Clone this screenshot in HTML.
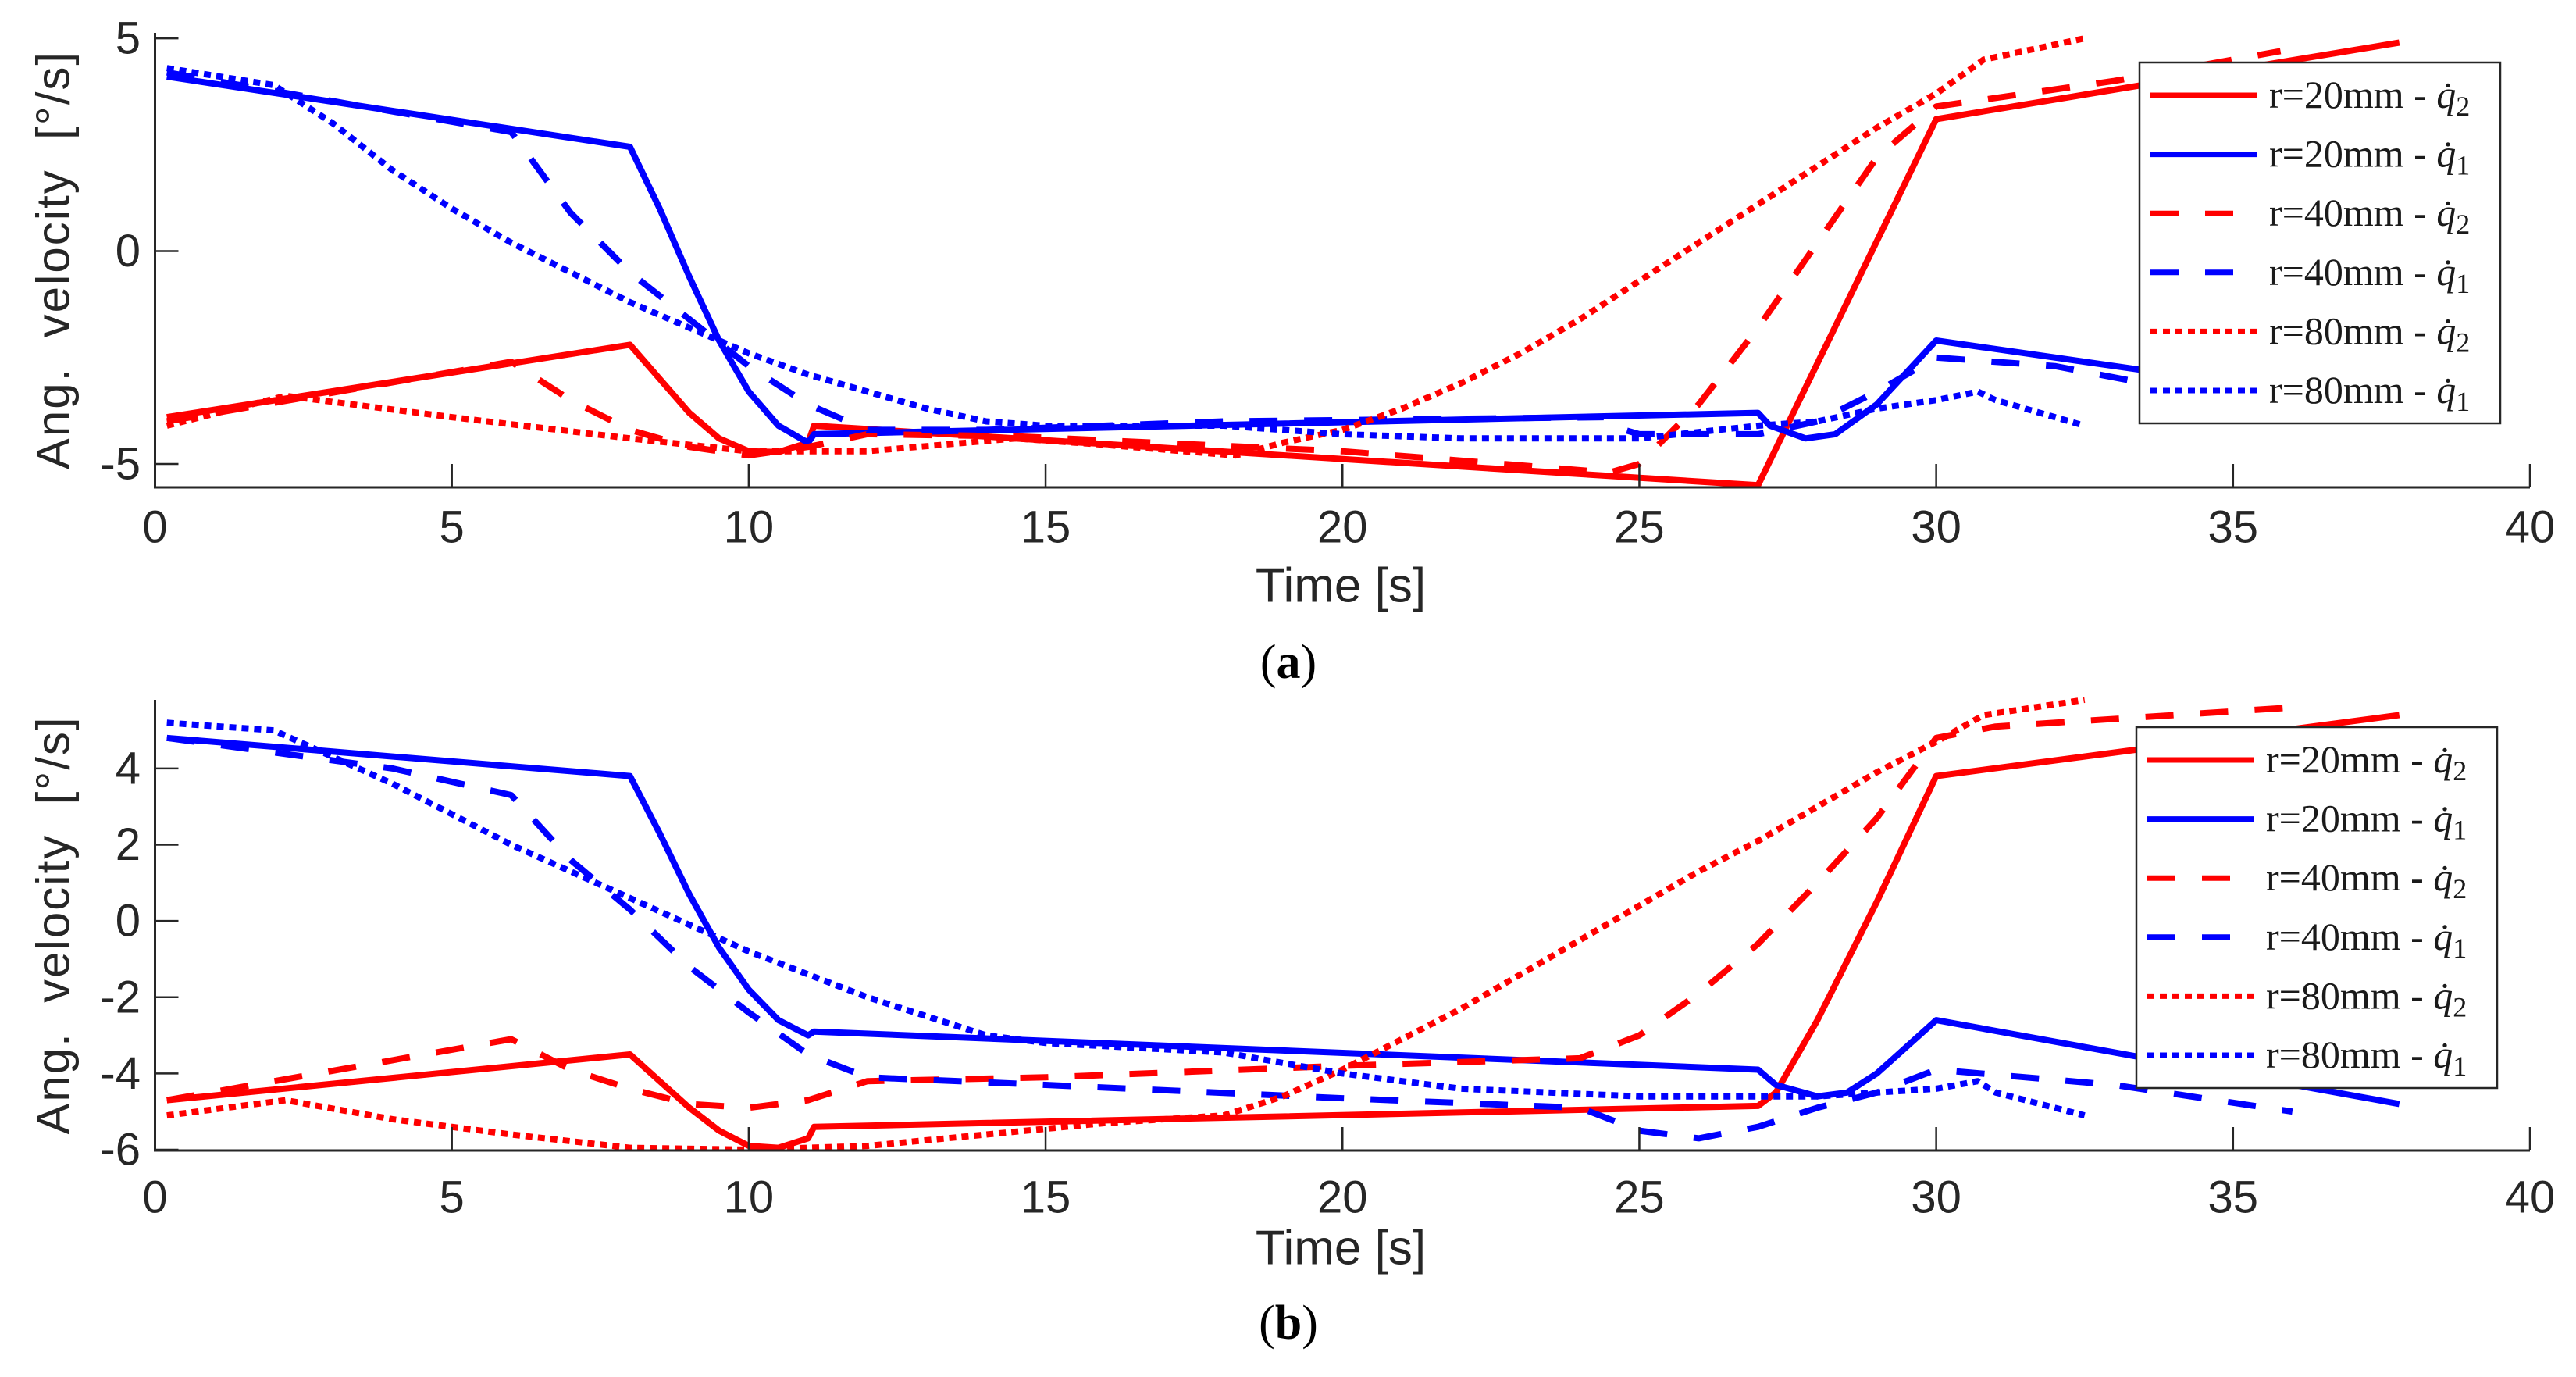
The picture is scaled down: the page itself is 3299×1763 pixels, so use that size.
<!DOCTYPE html>
<html><head><meta charset="utf-8"><style>
html,body{margin:0;padding:0;background:#fff;}
svg{display:block;}
</style></head><body>
<svg id="fig" xmlns="http://www.w3.org/2000/svg" width="3299" height="1763" viewBox="0 0 3299 1763">
<rect x="0" y="0" width="3299" height="1763" fill="#fff"/>
</svg>
<script>
// ---- shared data ----
const xTicks = [0,5,10,15,20,25,30,35,40];
const legendLabels = ["r=20mm - ","r=20mm - ","r=40mm - ","r=40mm - ","r=80mm - ","r=80mm - "];
const legendSubs = ["2","1","2","1","2","1"];

// ---- panel (a) data ----
const aYTicks = [-5,0,5];
const aR20q2 = [[0.2,-3.9],[8,-2.2],[8.5,-3.0],[9,-3.8],[9.5,-4.4],[10,-4.7],[10.5,-4.72],[11,-4.5],[11.1,-4.1],[27,-5.5],[30,3.1],[37.8,4.9]];
const aR20q1 = [[0.2,4.1],[8,2.45],[8.5,1.0],[9,-0.6],[9.5,-2.1],[10,-3.3],[10.5,-4.1],[11,-4.5],[11.1,-4.3],[27,-3.8],[27.2,-4.1],[27.8,-4.4],[28.3,-4.3],[29,-3.6],[30,-2.1],[33.5,-2.8],[37.8,-3.3]];
const aR40q2 = [[0.2,-4.0],[6,-2.6],[7,-3.5],[8,-4.2],[9,-4.6],[10,-4.8],[11,-4.6],[12,-4.3],[14.5,-4.35],[20,-4.7],[24.5,-5.2],[25,-5.0],[26,-3.6],[27,-1.8],[28,0.2],[29,2.2],[30,3.4],[33,4.0],[35.8,4.7]];
const aR40q1 = [[0.2,4.2],[6,2.8],[7,0.9],[8,-0.5],[9,-1.6],[10,-2.7],[11,-3.6],[12,-4.2],[14,-4.2],[18,-4.0],[24.4,-3.9],[24.5,-4.1],[25,-4.3],[27,-4.3],[28,-4.0],[29,-3.3],[30,-2.5],[32,-2.7],[33.5,-3.1],[35.8,-3.5]];
const aR80q2 = [[0.2,-4.1],[2.2,-3.4],[5,-3.9],[8,-4.4],[10,-4.7],[12,-4.7],[14.5,-4.4],[16,-4.55],[18.2,-4.8],[19,-4.5],[20,-4.2],[21,-3.7],[22,-3.1],[23,-2.4],[24,-1.6],[25,-0.7],[26,0.2],[27,1.1],[28,2.0],[29,2.9],[30,3.7],[30.8,4.5],[32.5,5.0]];
const aR80q1 = [[0.2,4.3],[2,3.9],[3,3.0],[4,1.9],[5,1.0],[6,0.2],[7,-0.5],[8,-1.2],[9,-1.8],[10,-2.4],[11,-2.9],[12,-3.3],[13,-3.7],[14,-4.0],[15,-4.1],[18,-4.1],[20,-4.3],[22,-4.4],[25,-4.4],[27,-4.1],[28,-4.0],[29,-3.7],[30,-3.5],[30.7,-3.3],[31,-3.5],[32.5,-4.1]];

// ---- panel (b) data ----
const bYTicks = [-6,-4,-2,0,2,4];
const bR20q2 = [[0.2,-4.7],[8,-3.5],[8.5,-4.2],[9,-4.9],[9.5,-5.5],[10,-5.9],[10.5,-5.95],[11,-5.7],[11.1,-5.4],[27,-4.85],[27.3,-4.5],[28,-2.6],[29,0.5],[30,3.8],[37.8,5.4]];
const bR20q1 = [[0.2,4.8],[8,3.8],[8.5,2.3],[9,0.7],[9.5,-0.7],[10,-1.8],[10.5,-2.6],[11,-3.0],[11.1,-2.9],[27,-3.9],[27.3,-4.3],[28,-4.6],[28.5,-4.5],[29,-4.0],[30,-2.6],[37.8,-4.8]];
const bR40q2 = [[0.2,-4.7],[6,-3.1],[7,-3.9],[8,-4.4],[9,-4.8],[10,-4.9],[11,-4.7],[12,-4.2],[15,-4.1],[20,-3.8],[24,-3.6],[25,-3.0],[26,-1.9],[27,-0.6],[28,1.0],[29,2.7],[30,4.8],[31,5.1],[36,5.6]];
const bR40q1 = [[0.2,4.8],[4,4.0],[6,3.3],[7,1.6],[8,0.3],[9,-1.2],[10,-2.4],[11,-3.5],[12,-4.1],[15,-4.3],[20,-4.65],[24,-4.9],[25,-5.5],[26,-5.7],[27,-5.4],[28,-4.9],[29,-4.5],[30,-3.9],[33,-4.3],[36,-5.0]];
const bR80q2 = [[0.2,-5.1],[2.2,-4.7],[4,-5.2],[6,-5.6],[8,-5.95],[10,-6.0],[12,-5.9],[14,-5.6],[16,-5.3],[18,-5.1],[19,-4.6],[20,-3.9],[21,-3.1],[22,-2.3],[23,-1.4],[24,-0.5],[25,0.4],[26,1.3],[27,2.1],[28,3.0],[29,3.9],[30,4.7],[30.8,5.4],[32.5,5.8]];
const bR80q1 = [[0.2,5.2],[2,5.0],[3,4.3],[4,3.6],[5,2.8],[6,2.0],[7,1.3],[8,0.6],[9,-0.1],[10,-0.8],[11,-1.4],[12,-2.0],[13,-2.5],[14,-3.0],[15,-3.2],[18,-3.45],[20,-4.0],[22,-4.4],[25,-4.6],[28,-4.6],[30,-4.4],[30.7,-4.2],[31,-4.5],[32.5,-5.1]];

const NS = "http://www.w3.org/2000/svg";
const svg = document.getElementById('fig');
const RED = "#ff0000", BLUE = "#0000ff";
const styles = [
  {c:RED, d:null}, {c:BLUE, d:null},
  {c:RED, d:"36 34"}, {c:BLUE, d:"36 34"},
  {c:RED, d:"9 7"}, {c:BLUE, d:"9 7"}
];
const seriesNames = ["r20-q2","r20-q1","r40-q2","r40-q1","r80-q2","r80-q1"];

function mk(tag, attrs, parent){
  const e = document.createElementNS(NS, tag);
  for (const k in attrs) e.setAttribute(k, attrs[k]);
  (parent||svg).appendChild(e);
  return e;
}

function panel(cfg){
  const g = mk('g', {});
  
  
  const X0 = 198.5, X1 = 3240;
  const xs = v => X0 + (v - 0) / 40 * (X1 - X0);
  const ys = v => cfg.yTop + (cfg.yMax - v) / (cfg.yMax - cfg.yMin) * (cfg.yBot - cfg.yTop);
  const sg = mk('g', {'clip-path':'url(#clip'+cfg.id+')'}, g);
  const cp = mk('clipPath', {id:'clip'+cfg.id}, g);
  mk('rect', {x:X0, y:cfg.yTop-20, width:X1-X0, height:cfg.yBot-cfg.yTop+20}, cp);
  cfg.series.forEach((s, i) => {
    const d = s.map((p, j) => (j ? 'L' : 'M') + xs(p[0]).toFixed(1) + ' ' + ys(p[1]).toFixed(1)).join(' ');
    const p = mk('path', {d:d, fill:'none', stroke:styles[i].c, 'stroke-width':8, 'stroke-linejoin':'round'}, sg);
    if (styles[i].d) p.setAttribute('stroke-dasharray', styles[i].d);
    
    
  });
  const ax = mk('path', {d:`M${X0} ${cfg.yTop} L${X0} ${cfg.yBot} L${X1} ${cfg.yBot}`, fill:'none', stroke:'#262626', 'stroke-width':3}, g);
  
  
  xTicks.forEach(t => {
    const x = xs(t);
    const tk = mk('line', {x1:x, x2:x, y1:cfg.yBot, y2:cfg.yBot-30, stroke:'#262626', 'stroke-width':2.5}, g);
    
    
    const tl = mk('text', {x:x, y:cfg.xLabY, 'font-size':58, 'text-anchor':'middle', 'dominant-baseline':'central', fill:'#262626', 'font-family':'Liberation Sans, sans-serif'}, g);
    tl.textContent = t;
    
    
  });
  cfg.yTicks.forEach(t => {
    const y = ys(t);
    const tk = mk('line', {x1:X0, x2:X0+30, y1:y, y2:y, stroke:'#262626', 'stroke-width':2.5}, g);
    
    
    const tl = mk('text', {x:180, y:y, 'font-size':58, 'text-anchor':'end', 'dominant-baseline':'central', fill:'#262626', 'font-family':'Liberation Sans, sans-serif'}, g);
    tl.textContent = t;
    
    
  });
  const xt = mk('text', {x:1717, y:cfg.xTitleY, 'font-size':62, 'text-anchor':'middle', 'dominant-baseline':'central', fill:'#262626', 'font-family':'Liberation Sans, sans-serif'}, g);
  xt.textContent = 'Time [s]';
  
  
  const yc = (cfg.yTop + cfg.yBot) / 2;
  const yt = mk('text', {x:68, y:yc, 'font-size':60, 'text-anchor':'middle', 'dominant-baseline':'central', fill:'#262626', 'font-family':'Liberation Sans, sans-serif', 'letter-spacing':2, transform:`rotate(-90 68 ${yc})`}, g);
  yt.textContent = 'Ang.\u00a0 velocity\u00a0 [°/s]';
  
  
  const lg = mk('g', {}, g);
  
  
  mk('rect', {x:cfg.lx, y:cfg.ly, width:462, height:cfg.lh, fill:'#fff', stroke:'#262626', 'stroke-width':2.5}, lg);
  legendLabels.forEach((lab, i) => {
    const ry = cfg.ly + 42 + i * (cfg.lh - 84) / 5;
    const ln = mk('line', {x1:cfg.lx+14, x2:cfg.lx+150, y1:ry, y2:ry, stroke:styles[i].c, 'stroke-width':7}, lg);
    if (styles[i].d) ln.setAttribute('stroke-dasharray', styles[i].d);
    
    
    const tx = mk('text', {x:cfg.lx+166, y:ry+16, 'font-size':50, fill:'#1a1a1a', 'font-family':'Liberation Serif, serif', 'xml:space':'preserve'}, lg);
    
    
    tx.appendChild(document.createTextNode(lab));
    const q = mk('tspan', {'font-style':'italic'}, tx);
    q.textContent = 'q\u0307';
    const sb = mk('tspan', {'font-size':36, dy:10}, tx);
    sb.textContent = legendSubs[i];
  });
  const cap = mk('text', {x:1650, y:cfg.capY, 'font-size':62, 'text-anchor':'middle', 'dominant-baseline':'central', fill:'#000', 'font-family':'Liberation Serif, serif'}, g);
  
  
  cap.appendChild(document.createTextNode('('));
  const b = mk('tspan', {'font-weight':'bold'}, cap);
  b.textContent = cfg.id;
  cap.appendChild(document.createTextNode(')'));
}

panel({id:'a', yTop:42, yBot:624, yMin:-5.55, yMax:5.13, yTicks:aYTicks,
  series:[aR20q2,aR20q1,aR40q2,aR40q1,aR80q2,aR80q1],
  xLabY:675, xTitleY:750, capY:848, lx:2740, ly:80, lh:462});
panel({id:'b', yTop:896, yBot:1473, yMin:-6.02, yMax:5.8, yTicks:bYTicks,
  series:[bR20q2,bR20q1,bR40q2,bR40q1,bR80q2,bR80q1],
  xLabY:1533, xTitleY:1598, capY:1694, lx:2736, ly:931, lh:462});
</script>
</body></html>
